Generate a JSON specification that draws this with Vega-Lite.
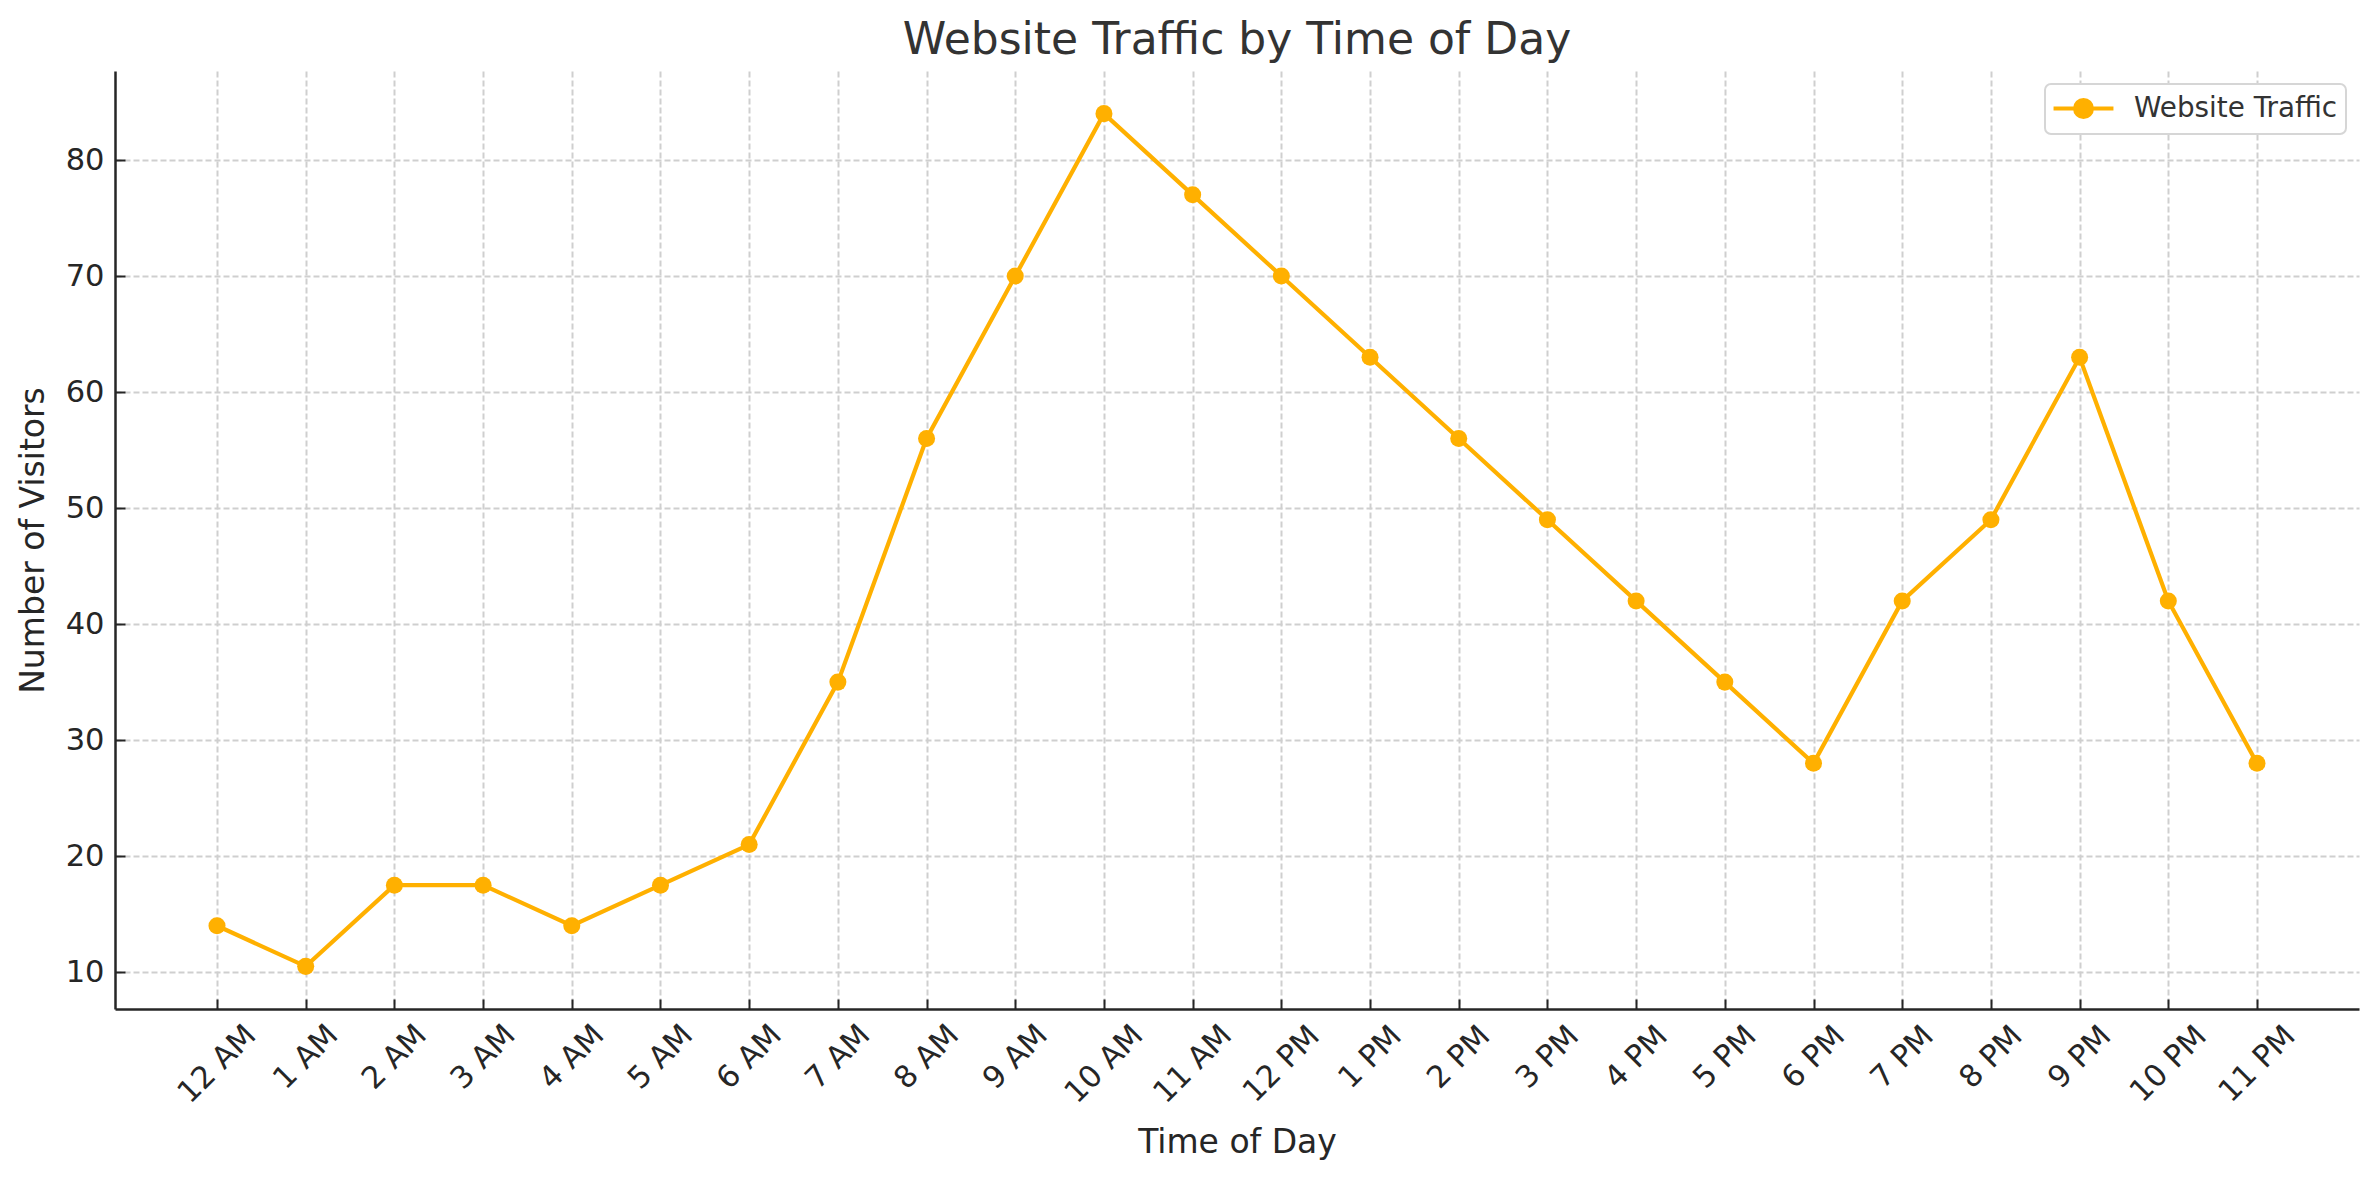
{
  "$schema": "https://vega.github.io/schema/vega-lite/v6.json",
  "autosize": {"type": "none"},
  "padding": {"left": 115, "top": 71, "right": 20, "bottom": 171},
  "width": 2244,
  "height": 938,
  "background": "white",
  "title": {
    "text": "Website Traffic by Time of Day",
    "font": "DejaVu Sans",
    "fontSize": 44,
    "fontWeight": "normal",
    "color": "#333333",
    "anchor": "middle",
    "offset": 8
  },
  "config": {
    "view": {"stroke": null},
    "font": "DejaVu Sans",
    "legend": {"strokeWidth": 2}
  },
  "data": {
    "values": [
      {"hour": 0, "time": "12 AM", "visitors": 14, "series": "Website Traffic"},
      {"hour": 1, "time": "1 AM", "visitors": 10.5, "series": "Website Traffic"},
      {"hour": 2, "time": "2 AM", "visitors": 17.5, "series": "Website Traffic"},
      {"hour": 3, "time": "3 AM", "visitors": 17.5, "series": "Website Traffic"},
      {"hour": 4, "time": "4 AM", "visitors": 14, "series": "Website Traffic"},
      {"hour": 5, "time": "5 AM", "visitors": 17.5, "series": "Website Traffic"},
      {"hour": 6, "time": "6 AM", "visitors": 21, "series": "Website Traffic"},
      {"hour": 7, "time": "7 AM", "visitors": 35, "series": "Website Traffic"},
      {"hour": 8, "time": "8 AM", "visitors": 56, "series": "Website Traffic"},
      {"hour": 9, "time": "9 AM", "visitors": 70, "series": "Website Traffic"},
      {"hour": 10, "time": "10 AM", "visitors": 84, "series": "Website Traffic"},
      {"hour": 11, "time": "11 AM", "visitors": 77, "series": "Website Traffic"},
      {"hour": 12, "time": "12 PM", "visitors": 70, "series": "Website Traffic"},
      {"hour": 13, "time": "1 PM", "visitors": 63, "series": "Website Traffic"},
      {"hour": 14, "time": "2 PM", "visitors": 56, "series": "Website Traffic"},
      {"hour": 15, "time": "3 PM", "visitors": 49, "series": "Website Traffic"},
      {"hour": 16, "time": "4 PM", "visitors": 42, "series": "Website Traffic"},
      {"hour": 17, "time": "5 PM", "visitors": 35, "series": "Website Traffic"},
      {"hour": 18, "time": "6 PM", "visitors": 28, "series": "Website Traffic"},
      {"hour": 19, "time": "7 PM", "visitors": 42, "series": "Website Traffic"},
      {"hour": 20, "time": "8 PM", "visitors": 49, "series": "Website Traffic"},
      {"hour": 21, "time": "9 PM", "visitors": 63, "series": "Website Traffic"},
      {"hour": 22, "time": "10 PM", "visitors": 42, "series": "Website Traffic"},
      {"hour": 23, "time": "11 PM", "visitors": 28, "series": "Website Traffic"}
    ]
  },
  "encoding": {
    "x": {
      "field": "hour",
      "type": "quantitative",
      "scale": {"domain": [-1.15, 24.15], "nice": false, "zero": false},
      "axis": {
        "title": "Time of Day",
        "titleFont": "DejaVu Sans",
        "titleFontSize": 33,
        "titleFontWeight": "normal",
        "titleColor": "#262626",
        "titlePadding": 18,
        "values": [0, 1, 2, 3, 4, 5, 6, 7, 8, 9, 10, 11, 12, 13, 14, 15, 16, 17, 18, 19, 20, 21, 22, 23],
        "labelExpr": "['12 AM','1 AM','2 AM','3 AM','4 AM','5 AM','6 AM','7 AM','8 AM','9 AM','10 AM','11 AM','12 PM','1 PM','2 PM','3 PM','4 PM','5 PM','6 PM','7 PM','8 PM','9 PM','10 PM','11 PM'][datum.value]",
        "labelFont": "DejaVu Sans",
        "labelFontSize": 30.5,
        "labelColor": "#262626",
        "labelAngle": -45,
        "labelAlign": "center",
        "labelBaseline": "middle",
        "labelOverlap": false,
        "labelFlush": false,
        "labelPadding": {
          "condition": {"test": "datum.value == 0 || datum.value == 10 || datum.value == 11 || datum.value == 12 || datum.value == 22 || datum.value == 23", "value": 65},
          "value": 58
        },
        "tickSize": -10,
        "tickColor": "#262626",
        "tickWidth": 2,
        "domainColor": "#262626",
        "domainWidth": 2.5,
        "grid": true,
        "gridColor": "#cfcfcf",
        "gridWidth": 2,
        "gridDash": [6, 3]
      }
    },
    "y": {
      "field": "visitors",
      "type": "quantitative",
      "scale": {"domain": [6.825, 87.675], "nice": false, "zero": false},
      "axis": {
        "title": "Number of Visitors",
        "titleFont": "DejaVu Sans",
        "titleFontSize": 33,
        "titleFontWeight": "normal",
        "titleColor": "#262626",
        "titlePadding": 15,
        "values": [10, 20, 30, 40, 50, 60, 70, 80],
        "labelFont": "DejaVu Sans",
        "labelFontSize": 30.5,
        "labelColor": "#262626",
        "labelPadding": 21,
        "tickSize": -10,
        "tickColor": "#262626",
        "tickWidth": 2,
        "domainColor": "#262626",
        "domainWidth": 2.5,
        "grid": true,
        "gridColor": "#cfcfcf",
        "gridWidth": 2,
        "gridDash": [6, 3]
      }
    },
    "color": {
      "field": "series",
      "type": "nominal",
      "scale": {"range": ["#FFB000"]},
      "legend": {
        "title": null,
        "orient": "top-right",
        "offset": 13,
        "labelFont": "DejaVu Sans",
        "labelFontSize": 27.8,
        "labelColor": "#333333",
        "labelLimit": 500,
        "labelOffset": 34,
        "symbolType": "M-2.14,0L2.14,0M-0.6,0A0.6,0.6 0 1,1 0.6,0A0.6,0.6 0 1,1 -0.6,0Z",
        "symbolSize": 784,
        "symbolOffset": 14,
        "symbolStrokeWidth": 4.2,
        "symbolFillColor": "#FFB000",
        "symbolStrokeColor": "#FFB000",
        "symbolOpacity": 1,
        "fillColor": "white",
        "strokeColor": "#d6d6d6",
        "cornerRadius": 6,
        "padding": 8
      }
    }
  },
  "layer": [
    {"mark": {"type": "line", "strokeWidth": 4.2}},
    {"mark": {"type": "point", "filled": true, "size": 290, "opacity": 1}}
  ]
}
